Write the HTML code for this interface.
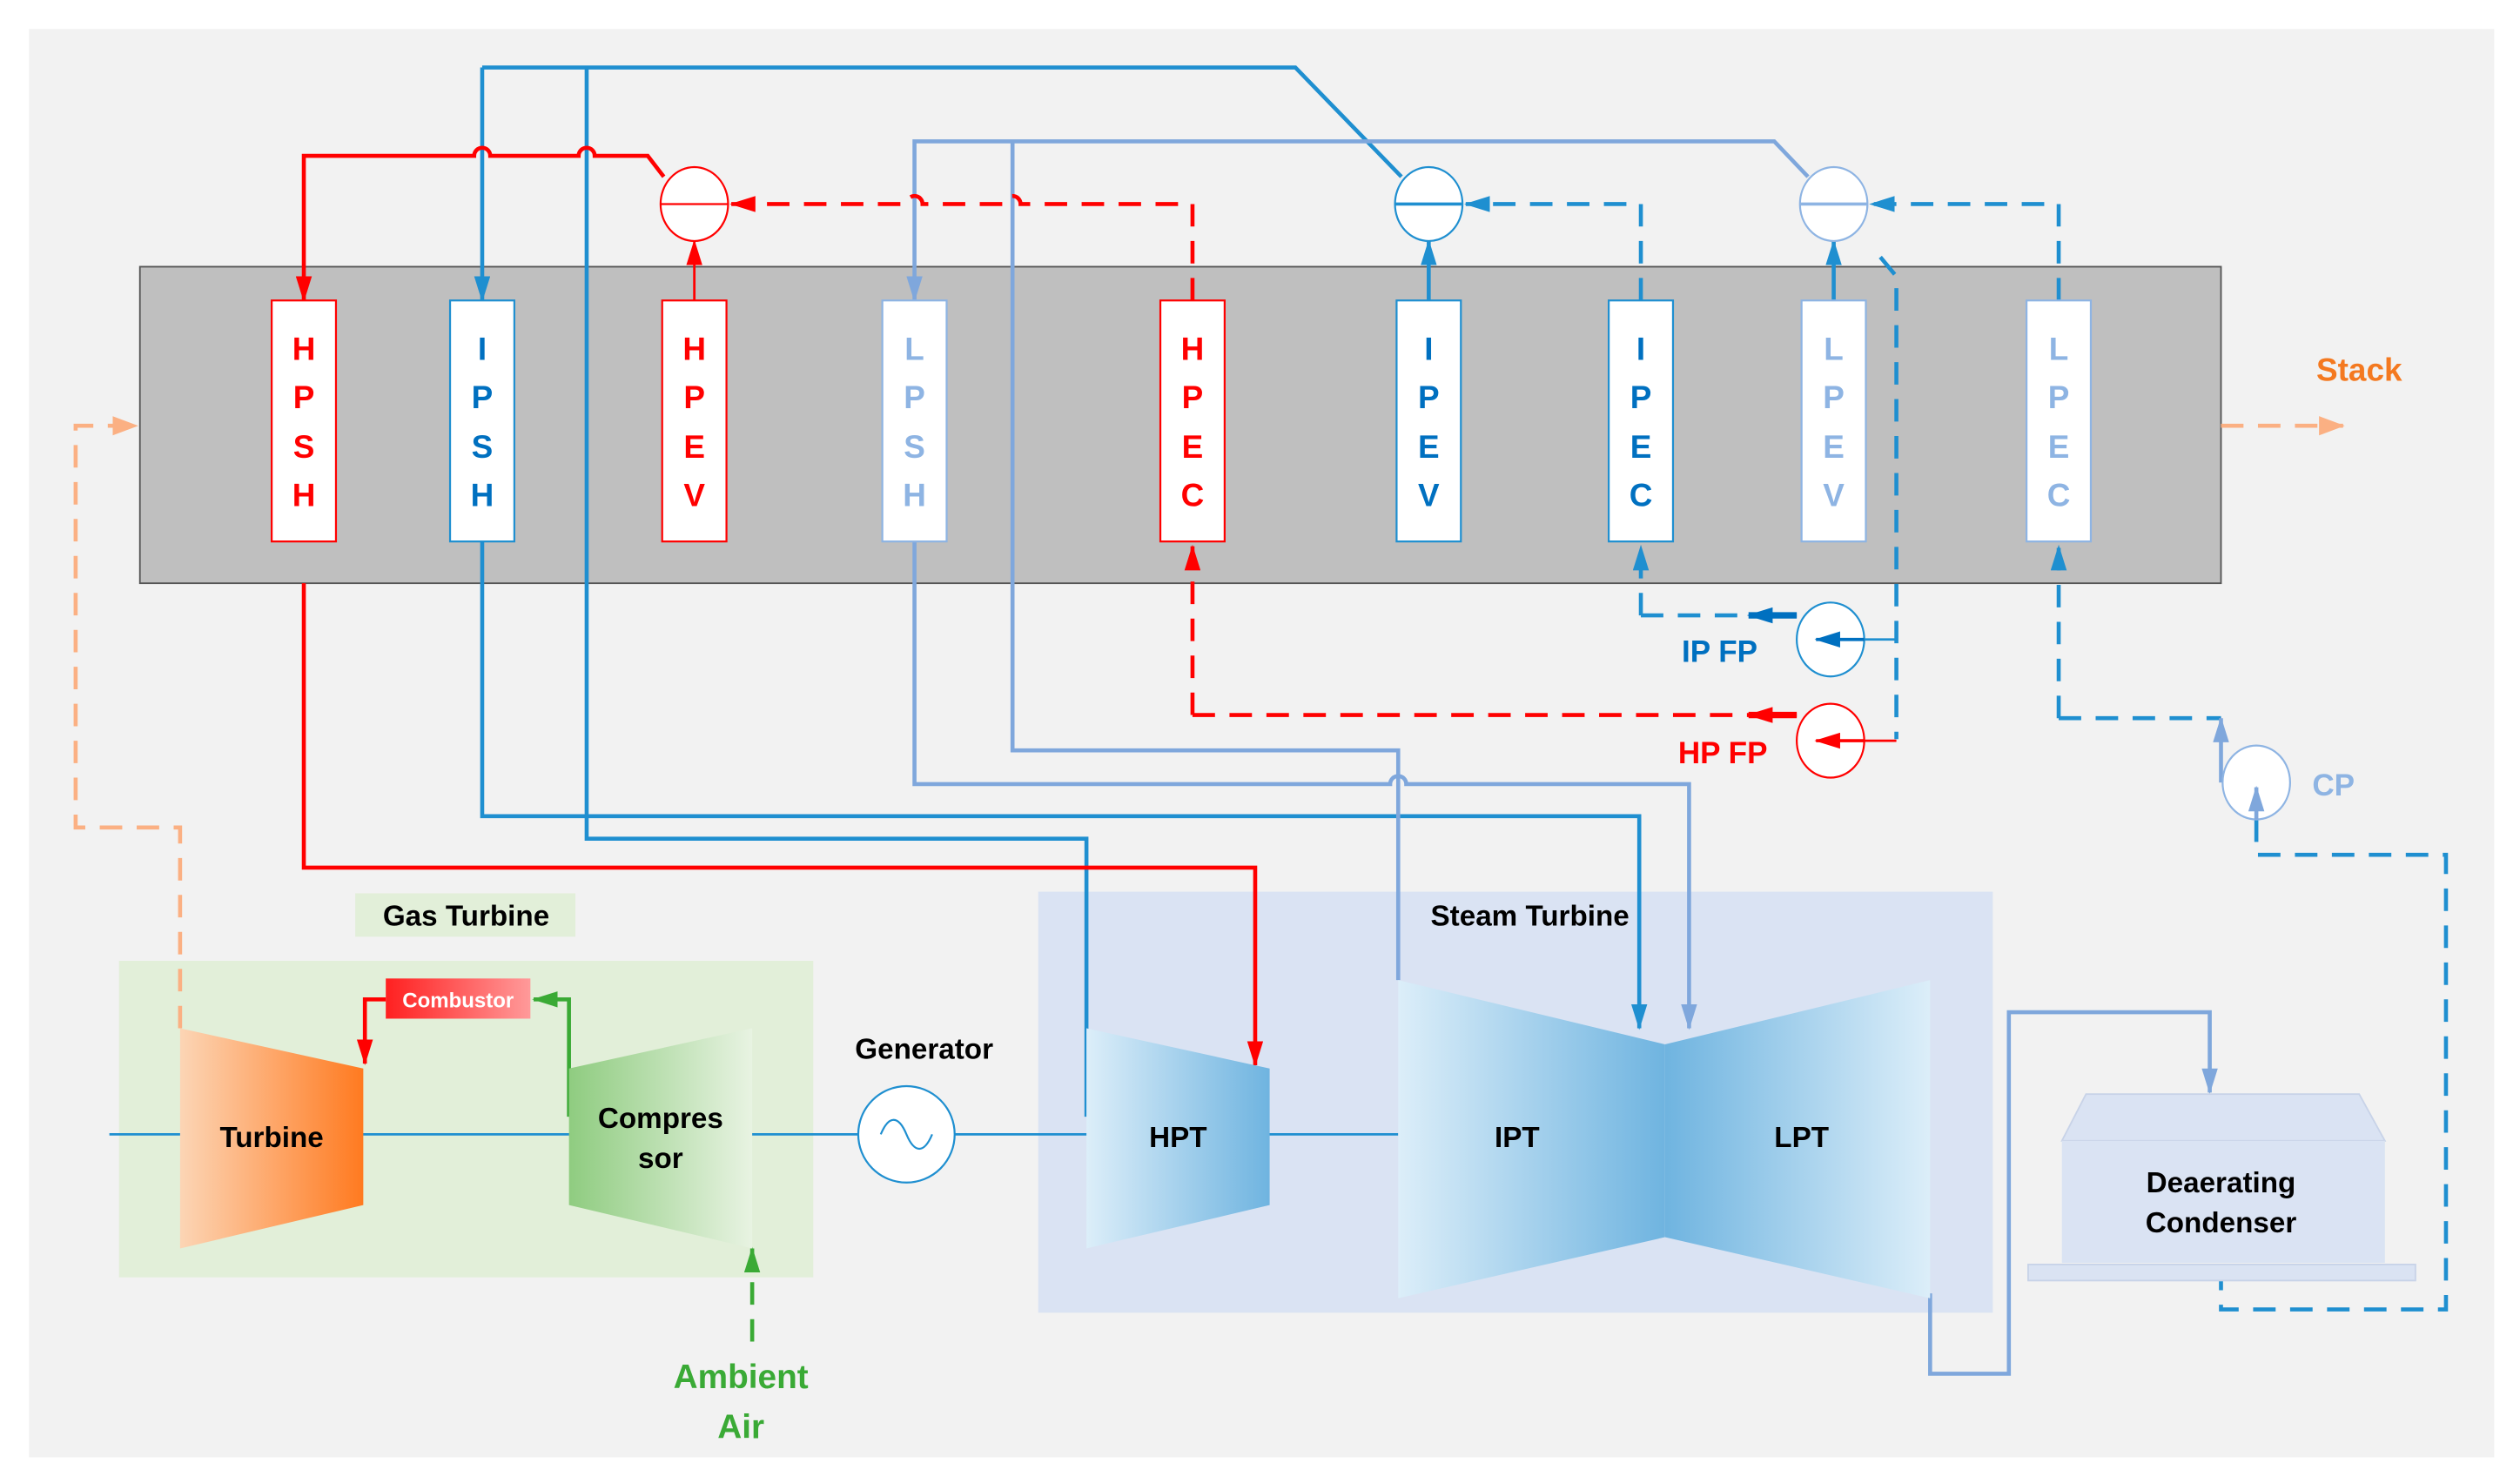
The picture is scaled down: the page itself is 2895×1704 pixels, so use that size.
<!DOCTYPE html>
<html><head><meta charset="utf-8"><style>html,body{margin:0;padding:0;background:#fff}svg{display:block}text{font-family:"Liberation Sans",sans-serif;font-weight:bold}</style></head>
<body>
<svg width="2895" height="1704" viewBox="0 0 1568 923" xmlns="http://www.w3.org/2000/svg">
<defs>
<linearGradient id="gor" x1="0" x2="1"><stop offset="0" stop-color="#fcd5b5"/><stop offset="1" stop-color="#ff7a20"/></linearGradient>
<linearGradient id="ggr" x1="0" x2="1"><stop offset="0" stop-color="#8fcc80"/><stop offset="1" stop-color="#e8f3e2"/></linearGradient>
<linearGradient id="gbl" x1="0" x2="1"><stop offset="0" stop-color="#dceef9"/><stop offset="1" stop-color="#6fb4e0"/></linearGradient>
<linearGradient id="gbr" x1="0" x2="1"><stop offset="0" stop-color="#6fb4e0"/><stop offset="1" stop-color="#dceef9"/></linearGradient>
<linearGradient id="gcb" x1="0" x2="1"><stop offset="0" stop-color="#ff2020"/><stop offset="1" stop-color="#ff9a9a"/></linearGradient>
<marker id="mr" viewBox="0 0 16 10" refX="15" refY="5" markerWidth="16" markerHeight="10" orient="auto-start-reverse" markerUnits="userSpaceOnUse"><path d="M0,0L16,5L0,10z" fill="#ff0000"/></marker>
<marker id="mb" viewBox="0 0 16 10" refX="15" refY="5" markerWidth="16" markerHeight="10" orient="auto-start-reverse" markerUnits="userSpaceOnUse"><path d="M0,0L16,5L0,10z" fill="#1f8fd0"/></marker>
<marker id="md" viewBox="0 0 16 10" refX="15" refY="5" markerWidth="16" markerHeight="10" orient="auto-start-reverse" markerUnits="userSpaceOnUse"><path d="M0,0L16,5L0,10z" fill="#0070c0"/></marker>
<marker id="ml" viewBox="0 0 16 10" refX="15" refY="5" markerWidth="16" markerHeight="10" orient="auto-start-reverse" markerUnits="userSpaceOnUse"><path d="M0,0L16,5L0,10z" fill="#7fa7dc"/></marker>
<marker id="mo" viewBox="0 0 16 12" refX="15" refY="6" markerWidth="16" markerHeight="12" orient="auto-start-reverse" markerUnits="userSpaceOnUse"><path d="M0,0L16,6L0,12z" fill="#fbb083"/></marker>
<marker id="mg" viewBox="0 0 16 10" refX="15" refY="5" markerWidth="16" markerHeight="10" orient="auto-start-reverse" markerUnits="userSpaceOnUse"><path d="M0,0L16,5L0,10z" fill="#3aaa35"/></marker>
</defs>
<rect x="18" y="18" width="1534" height="889" fill="#f2f2f2"/>
<rect x="87" y="166" width="1295" height="197" fill="#bfbfbf" stroke="#555" stroke-width="1"/>
<rect x="74" y="598" width="432" height="197" fill="#e2efd9"/>
<rect x="221" y="556" width="137" height="27" fill="#e2efd9"/>
<rect x="646" y="555" width="594" height="262" fill="#dae3f3"/>
<g font-size="18" text-anchor="middle">
<text x="290" y="576" fill="#000">Gas Turbine</text>
<text x="952" y="576" fill="#000">Steam Turbine</text>
<text x="575" y="659" fill="#000">Generator</text>
<text x="1468" y="237" fill="#f47920" font-size="20">Stack</text>
<text x="1070" y="412" fill="#0070c0" font-size="19">IP FP</text>
<text x="1072" y="475" fill="#ff0000" font-size="19">HP FP</text>
<text x="1452" y="495" fill="#8eb4e3" font-size="19">CP</text>
<text x="461" y="864" fill="#3aaa35" font-size="21">Ambient</text>
<text x="461" y="895" fill="#3aaa35" font-size="21">Air</text>
</g>
<g fill="none" stroke-width="2.5">
<path d="M300,337V508H1020V640" stroke="#1f8fd0" marker-end="url(#mb)"/>
<path d="M365,42V522H676V695" stroke="#1f8fd0"/>
<path d="M300,42H806L872,110" stroke="#1f8fd0"/>
<path d="M300,42V187" stroke="#1f8fd0" marker-end="url(#mb)"/>
<path d="M189,363V540H781V663" stroke="#ff0000" marker-end="url(#mr)"/>
<path d="M413,110L403,97H370a5,5 0 0 0 -10,0H305a5,5 0 0 0 -10,0H189V187" stroke="#ff0000" marker-end="url(#mr)"/>
<path d="M1125,110L1104,88H569V187" stroke="#7fa7dc" marker-end="url(#ml)"/>
<path d="M630,88V467H870V610" stroke="#7fa7dc"/>
<path d="M569,337V488H865a5,5 0 0 1 10,0H1051V640" stroke="#7fa7dc" marker-end="url(#ml)"/>
<path d="M1201,805V855H1250V630H1375V680" stroke="#7fa7dc" marker-end="url(#ml)"/>
<path d="M742,187V127H635a5,5 0 0 0 -10,0H574a5,5 0 0 0 -10,0H455" stroke="#ff0000" stroke-dasharray="14,9" marker-end="url(#mr)"/>
<path d="M742,445V340" stroke="#ff0000" stroke-dasharray="14,9" marker-end="url(#mr)"/>
<path d="M742,445H1118" stroke="#ff0000" stroke-dasharray="14,9"/>
<path d="M1021,187V127H912" stroke="#1f8fd0" stroke-dasharray="14,9" marker-end="url(#mb)"/>
<path d="M1281,187V127H1164" stroke="#1f8fd0" stroke-dasharray="14,9" marker-end="url(#mb)"/>
<path d="M1170,160L1180,172V460" stroke="#1f8fd0" stroke-dasharray="14,9"/>
<path d="M1021,383V340" stroke="#1f8fd0" stroke-dasharray="14,9" marker-end="url(#mb)"/>
<path d="M1021,383H1118" stroke="#1f8fd0" stroke-dasharray="14,9"/>
<path d="M1281,447V340" stroke="#1f8fd0" stroke-dasharray="14,9" marker-end="url(#mb)"/>
<path d="M1281,447H1382" stroke="#1f8fd0" stroke-dasharray="14,9"/>
<path d="M1404,510V532H1522V815H1382V797" stroke="#1f8fd0" stroke-dasharray="14,9"/>
<path d="M112,640V515H47V265H85" stroke="#fbb083" stroke-dasharray="14,9" marker-end="url(#mo)"/>
<path d="M1382,265H1458" stroke="#fbb083" stroke-dasharray="14,9" marker-end="url(#mo)"/>
<path d="M468,835V777" stroke="#3aaa35" stroke-dasharray="14,9" marker-end="url(#mg)"/>
<path d="M1382,487V447" stroke="#7fa7dc" marker-end="url(#ml)"/>
<path d="M1118,383H1088" stroke="#0070c0" stroke-width="4" marker-end="url(#md)"/>
<path d="M1118,445H1088" stroke="#ff0000" stroke-width="4" marker-end="url(#mr)"/>
<path d="M1180,398H1160" stroke="#1f8fd0" stroke-width="1.5"/>
<path d="M1180,461H1160" stroke="#ff0000" stroke-width="1.5"/>
<path d="M432,187V150" stroke="#ff0000" stroke-width="1.5" marker-end="url(#mr)"/>
<path d="M889,187V150" stroke="#1f8fd0" marker-end="url(#mb)"/>
<path d="M1141,187V150" stroke="#1f8fd0" marker-end="url(#mb)"/>
<path d="M240,622H227V662" stroke="#ff0000" marker-end="url(#mr)"/>
<path d="M354,695V622H332" stroke="#3aaa35" marker-end="url(#mg)"/>
<path d="M68,706H870" stroke="#1f8fd0" stroke-width="1.5"/>
</g>
<g stroke-width="1.2">
<ellipse cx="432" cy="127" rx="21" ry="23" fill="#fff" stroke="#ff0000"/><line x1="411" y1="127" x2="453" y2="127" stroke="#ff0000"/>
<ellipse cx="889" cy="127" rx="21" ry="23" fill="#fff" stroke="#1f8fd0"/><line x1="868" y1="127" x2="910" y2="127" stroke="#1f8fd0" stroke-width="2"/>
<ellipse cx="1141" cy="127" rx="21" ry="23" fill="#fff" stroke="#8eb4e3"/><line x1="1120" y1="127" x2="1162" y2="127" stroke="#8eb4e3" stroke-width="2"/>
<ellipse cx="1139" cy="398" rx="21" ry="23" fill="#fff" stroke="#1f8fd0"/>
<ellipse cx="1139" cy="461" rx="21" ry="23" fill="#fff" stroke="#ff0000"/>
<ellipse cx="1404" cy="487" rx="21" ry="23" fill="#fff" stroke="#8eb4e3"/>
</g>
<g fill="none" stroke-width="2">
<path d="M1160,398H1130" stroke="#0070c0" marker-end="url(#md)"/>
<path d="M1160,461H1130" stroke="#ff0000" marker-end="url(#mr)"/>
<path d="M1404,510V490" stroke="#7fa7dc" stroke-width="2.5" marker-end="url(#ml)"/>
</g>
<g stroke-width="1.2">
<rect x="169" y="187" width="40" height="150" fill="#fff" stroke="#ff0000"/>
<rect x="280" y="187" width="40" height="150" fill="#fff" stroke="#1f8fd0"/>
<rect x="412" y="187" width="40" height="150" fill="#fff" stroke="#ff0000"/>
<rect x="549" y="187" width="40" height="150" fill="#fff" stroke="#8eb4e3"/>
<rect x="722" y="187" width="40" height="150" fill="#fff" stroke="#ff0000"/>
<rect x="869" y="187" width="40" height="150" fill="#fff" stroke="#1f8fd0"/>
<rect x="1001" y="187" width="40" height="150" fill="#fff" stroke="#1f8fd0"/>
<rect x="1121" y="187" width="40" height="150" fill="#fff" stroke="#8eb4e3"/>
<rect x="1261" y="187" width="40" height="150" fill="#fff" stroke="#8eb4e3"/>
</g>
<g font-size="20" text-anchor="middle">
<g fill="#ff0000"><text x="189" y="224">H</text><text x="189" y="254">P</text><text x="189" y="285">S</text><text x="189" y="315">H</text></g>
<g fill="#0070c0"><text x="300" y="224">I</text><text x="300" y="254">P</text><text x="300" y="285">S</text><text x="300" y="315">H</text></g>
<g fill="#ff0000"><text x="432" y="224">H</text><text x="432" y="254">P</text><text x="432" y="285">E</text><text x="432" y="315">V</text></g>
<g fill="#8eb4e3"><text x="569" y="224">L</text><text x="569" y="254">P</text><text x="569" y="285">S</text><text x="569" y="315">H</text></g>
<g fill="#ff0000"><text x="742" y="224">H</text><text x="742" y="254">P</text><text x="742" y="285">E</text><text x="742" y="315">C</text></g>
<g fill="#0070c0"><text x="889" y="224">I</text><text x="889" y="254">P</text><text x="889" y="285">E</text><text x="889" y="315">V</text></g>
<g fill="#0070c0"><text x="1021" y="224">I</text><text x="1021" y="254">P</text><text x="1021" y="285">E</text><text x="1021" y="315">C</text></g>
<g fill="#8eb4e3"><text x="1141" y="224">L</text><text x="1141" y="254">P</text><text x="1141" y="285">E</text><text x="1141" y="315">V</text></g>
<g fill="#8eb4e3"><text x="1281" y="224">L</text><text x="1281" y="254">P</text><text x="1281" y="285">E</text><text x="1281" y="315">C</text></g>
</g>
<polygon points="112,640 226,665 226,750 112,777" fill="url(#gor)"/>
<polygon points="354,665 468,640 468,777 354,750" fill="url(#ggr)"/>
<rect x="240" y="609" width="90" height="25" fill="url(#gcb)"/>
<polygon points="676,640 790,665 790,750 676,777" fill="url(#gbl)"/>
<polygon points="870,610 1036,650 1036,770 870,808" fill="url(#gbl)"/>
<polygon points="1036,650 1201,610 1201,808 1036,770" fill="url(#gbr)"/>
<circle cx="564" cy="706" r="30" fill="#fff" stroke="#1f8fd0" stroke-width="1.2"/>
<path d="M548,706c5,-12 11,-12 16,0s11,12 16,0" fill="none" stroke="#1f8fd0" stroke-width="1.2"/>
<polygon points="1298,681 1468,681 1484,710 1283,710" fill="#dae3f3" stroke="#c8d3e8"/>
<rect x="1283" y="710" width="201" height="76" fill="#dae3f3"/>
<rect x="1262" y="787" width="241" height="10" fill="#dae3f3" stroke="#c8d3e8"/>
<g font-size="18" text-anchor="middle" fill="#000">
<text x="169" y="714">Turbine</text>
<text x="411" y="702">Compres</text><text x="411" y="727">sor</text>
<text x="733" y="714">HPT</text><text x="944" y="714">IPT</text><text x="1121" y="714">LPT</text>
<text x="1382" y="742">Deaerating</text><text x="1382" y="767">Condenser</text>
<text x="285" y="627" font-size="13" fill="#fff">Combustor</text>
</g>
</svg>
</body></html>
